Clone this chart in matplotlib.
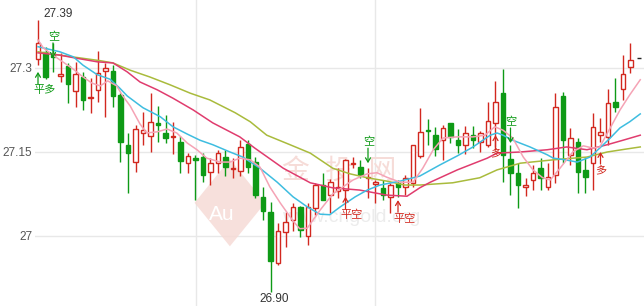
import matplotlib

matplotlib.use("Agg")
import matplotlib.pyplot as plt
from matplotlib.patches import Rectangle, Polygon

plt.rcParams["font.family"] = ["Liberation Sans", "Noto Sans CJK SC", "DejaVu Sans"]

# candle data (one entry per bar)
opens = [27.316, 27.329, 27.325, 27.285, 27.304, 27.259, 27.284, 27.247, 27.261, 27.295,
         27.295, 27.252, 27.162, 27.132, 27.184, 27.179, 27.202, 27.184, 27.177, 27.168,
         27.130, 27.139, 27.141, 27.114, 27.130, 27.141, 27.120, 27.116, 27.164, 27.132,
         27.070, 27.043, 26.952, 27.007, 27.029, 27.052, 27.000, 27.050, 27.091, 27.073,
         27.080, 27.082, 27.129, 27.123, 27.103, 27.093, 27.086, 27.070, 27.095, 27.087,
         27.095, 27.143, 27.189, 27.180, 27.171, 27.202, 27.171, 27.162, 27.180, 27.168,
         27.163, 27.202, 27.255, 27.138, 27.113, 27.088, 27.100, 27.121, 27.088, 27.109,
         27.250, 27.145, 27.168, 27.118, 27.130, 27.180, 27.177, 27.239, 27.262, 27.302]
highs = [27.386, 27.338, 27.345, 27.327, 27.309, 27.311, 27.293, 27.282, 27.330, 27.309,
         27.305, 27.255, 27.184, 27.198, 27.221, 27.255, 27.232, 27.216, 27.204, 27.179,
         27.148, 27.145, 27.148, 27.139, 27.154, 27.154, 27.139, 27.171, 27.171, 27.141,
         27.088, 27.061, 27.023, 27.043, 27.059, 27.054, 27.059, 27.095, 27.113, 27.102,
         27.121, 27.138, 27.141, 27.136, 27.121, 27.100, 27.100, 27.095, 27.100, 27.109,
         27.162, 27.229, 27.209, 27.195, 27.198, 27.202, 27.191, 27.196, 27.196, 27.188,
         27.239, 27.277, 27.298, 27.163, 27.130, 27.104, 27.127, 27.139, 27.130, 27.255,
         27.257, 27.193, 27.175, 27.141, 27.220, 27.210, 27.263, 27.282, 27.323, 27.345]
lows = [27.305, 27.280, 27.293, 27.275, 27.238, 27.230, 27.225, 27.220, 27.239, 27.213,
        27.230, 27.132, 27.077, 27.114, 27.162, 27.150, 27.168, 27.166, 27.146, 27.113,
        27.113, 27.064, 27.096, 27.091, 27.113, 27.107, 27.104, 27.107, 27.113, 27.068,
        27.029, 26.900, 26.948, 26.980, 27.009, 26.998, 26.984, 27.038, 27.064, 27.041,
        27.068, 27.064, 27.121, 27.104, 27.068, 27.059, 27.064, 27.041, 27.070, 27.073,
        27.087, 27.139, 27.163, 27.143, 27.136, 27.166, 27.148, 27.146, 27.157, 27.150,
        27.159, 27.154, 27.096, 27.073, 27.050, 27.071, 27.082, 27.082, 27.082, 27.095,
        27.130, 27.127, 27.077, 27.077, 27.082, 27.168, 27.163, 27.221, 27.243, 27.291]
closes = [27.345, 27.284, 27.320, 27.289, 27.271, 27.289, 27.243, 27.249, 27.291, 27.300,
          27.250, 27.168, 27.148, 27.191, 27.189, 27.204, 27.198, 27.175, 27.178, 27.134,
          27.143, 27.136, 27.109, 27.130, 27.148, 27.123, 27.122, 27.159, 27.123, 27.073,
          27.045, 26.955, 27.009, 27.025, 27.052, 27.011, 27.052, 27.091, 27.064, 27.096,
          27.088, 27.136, 27.131, 27.109, 27.105, 27.096, 27.073, 27.091, 27.088, 27.104,
          27.162, 27.186, 27.187, 27.155, 27.193, 27.177, 27.162, 27.184, 27.171, 27.184,
          27.205, 27.239, 27.145, 27.113, 27.091, 27.091, 27.113, 27.104, 27.105, 27.230,
          27.171, 27.175, 27.114, 27.105, 27.195, 27.186, 27.238, 27.230, 27.289, 27.314]

# moving average lines (bar position, price)
ma5_x = [0, 0.7, 2, 3.3, 4.7, 6, 7.2, 8.3, 9.3, 10.5, 11.3, 12.3, 13.6, 14.5, 15.9, 17.2,
         18.5, 19.9, 21.2, 22.5, 24.3, 25.6, 26.9, 28.3, 29.6, 30.9, 32.3, 34, 34.9, 35.9,
         37.6, 39.3, 40.7, 42, 43.9, 45.2, 46.5, 48.3, 50, 51.3, 52.7, 54, 55.9, 58, 59.6,
         60.9, 62, 63.3, 64.7, 66, 67.3, 68.3, 69.6, 71.3, 72.7, 74, 74.9, 76.3, 77.6, 78.9, 80.3]
ma5_y = [27.350, 27.336, 27.323, 27.311, 27.298, 27.284, 27.273, 27.268, 27.277, 27.268,
         27.250, 27.232, 27.200, 27.184, 27.186, 27.191, 27.184, 27.166, 27.154, 27.139,
         27.132, 27.132, 27.139, 27.136, 27.123, 27.088, 27.059, 27.027, 27.013, 27.014,
         27.046, 27.075, 27.088, 27.100, 27.111, 27.113, 27.105, 27.096, 27.096, 27.121,
         27.154, 27.175, 27.177, 27.177, 27.180, 27.195, 27.189, 27.175, 27.141, 27.118,
         27.104, 27.100, 27.121, 27.150, 27.161, 27.157, 27.159, 27.193, 27.225, 27.252, 27.279]
ma10_x = [0, 2.9, 4.7, 6, 7.9, 9.6, 10.9, 11.9, 14, 16.3, 18, 19.9, 21.6, 23.3, 25.6, 27.3,
          29.6, 31.9, 34, 35.9, 37.6, 38.9, 40.3, 42.3, 43.9, 45.6, 48.3, 50.9, 53.6, 55.9,
          58, 60.3, 61.2, 62, 63.3, 65.6, 67.9, 68.7, 70.3, 71.9, 73.6, 74.9, 76.3, 77.6, 78.9, 80.3]
ma10_y = [27.338, 27.329, 27.320, 27.305, 27.288, 27.280, 27.264, 27.250, 27.229, 27.213,
          27.195, 27.182, 27.171, 27.163, 27.150, 27.141, 27.121, 27.096, 27.070, 27.052,
          27.039, 27.038, 27.052, 27.070, 27.082, 27.091, 27.098, 27.107, 27.127, 27.143,
          27.159, 27.180, 27.184, 27.180, 27.171, 27.159, 27.145, 27.139, 27.136, 27.132,
          27.141, 27.157, 27.175, 27.193, 27.204, 27.218]
ma20_x = [0, 2.9, 4.9, 7.9, 10, 11.9, 13.6, 15.9, 18, 20.7, 23.3, 26.9, 28.9, 32.7, 36.3,
          39.3, 42.9, 46.5, 49.2, 50.9, 52.3, 55.9, 59.9, 61.2, 64.3, 67.9, 70.5, 73.2, 75.9, 78, 80.3]
ma20_y = [27.327, 27.323, 27.318, 27.311, 27.309, 27.293, 27.275, 27.261, 27.246, 27.225,
          27.202, 27.177, 27.157, 27.121, 27.095, 27.086, 27.082, 27.073, 27.071, 27.086,
          27.096, 27.118, 27.139, 27.148, 27.150, 27.154, 27.159, 27.154, 27.163, 27.171, 27.180]
ma30_x = [0, 2.9, 5.6, 8.3, 10, 12.3, 14.9, 17.6, 20.3, 22.9, 26.3, 28.3, 30.5, 33.6, 36.3,
          39.3, 41.6, 43.9, 46.5, 48.9, 50.9, 55.3, 58.9, 61.2, 64.3, 68.7, 73.2, 75.9, 78.3, 80.3]
ma30_y = [27.329, 27.323, 27.318, 27.313, 27.309, 27.296, 27.284, 27.270, 27.255, 27.243,
          27.220, 27.204, 27.180, 27.163, 27.148, 27.121, 27.111, 27.104, 27.098, 27.091,
          27.091, 27.095, 27.104, 27.118, 27.130, 27.136, 27.141, 27.150, 27.155, 27.159]

# trade signals: bar, label, arrow tip price, direction
sig_idx = [0, 2, 41, 44, 48, 61, 63, 75]
sig_text = ["平多", "空", "平空", "空", "平空", "多", "空", "多"]
sig_price = [27.293, 27.318, 27.070, 27.130, 27.064, 27.180, 27.166, 27.150]
sig_dir = ["up", "down", "up", "down", "up", "up", "down", "up"]

y_ticks = [27.0, 27.15, 27.3]
y_labels = ["27", "27.15", "27.3"]
v_grid = [21.1, 45.0]
last_price = 27.318

RED = "#d2281f"
GREEN = "#0e9a16"
PX = 0.72  # points per pixel at 100 dpi

fig = plt.figure(figsize=(6.44, 3.06), dpi=100)
ax = fig.add_axes([35 / 644, 0, 1 - 35 / 644, 1])
ax.set_xlim(-0.4, 80.8)
ax.set_ylim(26.875, 27.4214)
for s in ax.spines.values():
    s.set_visible(False)
ax.set_xticks([])
ax.set_yticks(y_ticks)
ax.set_yticklabels(y_labels)
ax.tick_params(axis="y", length=0, pad=2, labelsize=8.5, labelcolor="#555555")
for v in y_ticks:
    ax.axhline(v, color="#e8e8e8", lw=1, zorder=0)
for v in v_grid:
    ax.axvline(v, color="#e8e8e8", lw=1, zorder=0)

# faint watermark
ax.add_patch(Polygon([(0.262, 0.337), (0.320, 0.48), (0.378, 0.337), (0.320, 0.195)],
                     closed=True, transform=ax.transAxes, facecolor="#f6d9d4",
                     edgecolor="none", alpha=0.8, zorder=0.5))
ax.text(0.307, 0.30, "Au", transform=ax.transAxes, fontsize=15, color="white",
        ha="center", va="center", zorder=0.6)
ax.text(0.50, 0.44, "金  投  网", transform=ax.transAxes, fontsize=20, color="#f6dcd8",
        ha="center", va="center", zorder=0.5)
ax.text(0.52, 0.29, "www.cngold.org", transform=ax.transAxes, fontsize=14, color="#ececec",
        ha="center", va="center", zorder=0.5)

# candles
for i in range(len(opens)):
    o, h, l, c = opens[i], highs[i], lows[i], closes[i]
    up = c >= o
    col = RED if up else GREEN
    ax.vlines(i, l, h, color=col, lw=1, zorder=2)
    lo = min(o, c)
    hgt = max(abs(c - o), 0.0008)
    ax.add_patch(Rectangle((i - 0.32, lo), 0.64, hgt, facecolor="white" if up else col,
                           edgecolor=col, lw=1, zorder=3))

ax.plot(ma30_x, ma30_y, color="#a9bb3c", lw=1.1, zorder=4)
ax.plot(ma20_x, ma20_y, color="#e03c6e", lw=1.1, zorder=4)
ax.plot(ma10_x, ma10_y, color="#3ebde0", lw=1.1, zorder=4)
ax.plot(ma5_x, ma5_y, color="#f5a3b5", lw=1.1, zorder=4)

# highest / lowest labels
imax = highs.index(max(highs))
imin = lows.index(min(lows))
ax.annotate(f"{highs[imax]:.2f}", xy=(imax, highs[imax]), xytext=(5 * PX, 3 * PX),
            textcoords="offset points", ha="left", va="baseline", fontsize=8.5, color="#333333")
ax.annotate(f"{lows[imin]:.2f}", xy=(imin, lows[imin]), xytext=(4 * PX, -1 * PX),
            textcoords="offset points", ha="center", va="top", fontsize=8.5, color="#333333")

# signal arrows
for i, t, p, d in zip(sig_idx, sig_text, sig_price, sig_dir):
    col = GREEN if t == "空" or t == "平多" else RED
    if d == "up":
        tail, txt, va = -12, -13, "top"
    else:
        tail, txt, va = 15, 16, "bottom"
    ax.annotate("", xy=(i, p), xytext=(0, tail * PX), textcoords="offset points",
                arrowprops=dict(arrowstyle="->,head_length=0.3,head_width=0.18", color=col,
                                lw=0.9, shrinkA=0, shrinkB=0), zorder=5)
    ax.annotate(t, xy=(i, p), xytext=(-5 * PX, txt * PX), textcoords="offset points",
                ha="left", va=va, fontsize=8, color=col, zorder=5)

ax.hlines(last_price, 79.9, 80.4, color="#222222", lw=1, zorder=5)

fig.savefig("out.png", dpi=100)
